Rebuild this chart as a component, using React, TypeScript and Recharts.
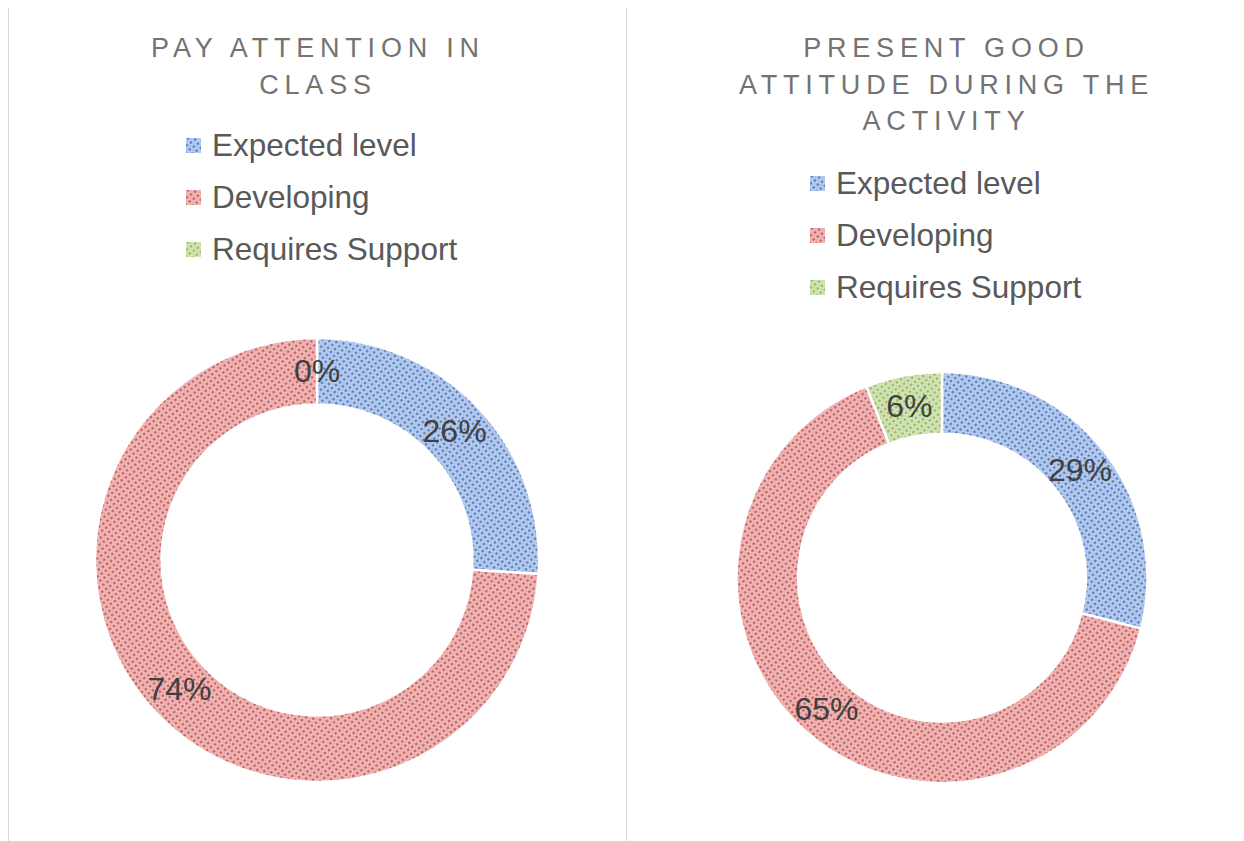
import React from "react";
import { PieChart, Pie, Cell } from "recharts";

// legend categories, in drawing order (clockwise from 12 o'clock)
const categories = ["Expected level", "Developing", "Requires Support"];
const attentionValues = [26, 74, 0];
const attitudeValues = [29, 65, 6];
const attentionTitle = ["PAY ATTENTION IN", "CLASS"];
const attitudeTitle = ["PRESENT GOOD", "ATTITUDE DURING THE", "ACTIVITY"];

const FONT = "'Liberation Sans', Arial, Helvetica, sans-serif";
const RADIAN = Math.PI / 180;

// base + dot colour for the dotted fill of each category
const swatches = [
  { base: "#bccfee", dot: "#4674c0" },
  { base: "#efbcbc", dot: "#c84f4f" },
  { base: "#d6e5bd", dot: "#8fb552" },
];

function PatternDefs({ prefix }: { prefix: string }) {
  return (
    <defs>
      {swatches.map((s, i) => (
        <pattern
          key={i}
          id={`${prefix}-pat-${i}`}
          width={5}
          height={5}
          patternUnits="userSpaceOnUse"
          patternTransform="rotate(-35)"
        >
          <rect width={5} height={5} fill={s.base} />
          <circle cx={1.5} cy={1.5} r={1.3} fill={s.dot} />
          <circle cx={4} cy={4} r={0.7} fill={s.dot} opacity={0.45} />
        </pattern>
      ))}
    </defs>
  );
}

const renderLabel = (props: any) => {
  const { cx, cy, midAngle, innerRadius, outerRadius, value } = props;
  const r = (innerRadius + outerRadius) / 2;
  const x = cx + r * Math.cos(-midAngle * RADIAN);
  const y = cy + r * Math.sin(-midAngle * RADIAN);
  return (
    <text
      x={x}
      y={y}
      textAnchor="middle"
      dominantBaseline="central"
      fill="#404040"
      fontSize={32}
      fontFamily={FONT}
    >
      {value}%
    </text>
  );
};

interface PanelProps {
  id: string;
  title: string[];
  values: number[];
  left: number;
  width: number;
  legendLeft: number;
  legendTop: number;
  cx: number;
  cy: number;
  outer: number;
  borderLeft?: boolean;
  borderRight?: boolean;
}

function DonutPanel({
  id,
  title,
  values,
  left,
  width,
  legendLeft,
  legendTop,
  cx,
  cy,
  outer,
  borderLeft,
  borderRight,
}: PanelProps) {
  const data = categories.map((name, i) => ({ name, value: values[i] }));
  const inner = outer * 0.7;

  return (
    <div
      style={{
        position: "absolute",
        left,
        top: 7,
        width,
        height: 860,
        boxSizing: "border-box",
        borderTop: "1px solid #d9d9d9",
        borderLeft: borderLeft ? "1px solid #d9d9d9" : "none",
        borderRight: borderRight ? "1px solid #d9d9d9" : "none",
        background: "#fff",
      }}
    >
      <div
        style={{
          position: "absolute",
          left: 0,
          top: 22,
          width: "100%",
          textAlign: "center",
          fontFamily: FONT,
          fontSize: 27,
          lineHeight: "36.5px",
          letterSpacing: 5.8,
          color: "#737373",
        }}
      >
        {title.map((t) => (
          <div key={t}>{t}</div>
        ))}
      </div>

      <div
        style={{
          position: "absolute",
          left: legendLeft,
          top: legendTop,
          fontFamily: FONT,
          fontSize: 31.5,
          color: "#595959",
        }}
      >
        {categories.map((c, i) => (
          <div
            key={c}
            style={{ display: "flex", alignItems: "center", height: 52 }}
          >
            <svg width={15} height={15} style={{ marginRight: 11 }}>
              <PatternDefs prefix={`${id}-leg-${i}`} />
              <rect width={15} height={15} fill={`url(#${id}-leg-${i}-pat-${i})`} />
            </svg>
            <span style={{ whiteSpace: "nowrap" }}>{c}</span>
          </div>
        ))}
      </div>

      <div style={{ position: "absolute", left: 0, top: 0 }}>
        <PieChart
          width={width - 2}
          height={850}
          margin={{ top: 0, right: 0, bottom: 0, left: 0 }}
        >
          <PatternDefs prefix={id} />
          <Pie
            data={data}
            dataKey="value"
            nameKey="name"
            cx={cx}
            cy={cy}
            innerRadius={inner}
            outerRadius={outer}
            startAngle={90}
            endAngle={-270}
            stroke="#ffffff"
            strokeWidth={2.5}
            label={renderLabel}
            labelLine={false}
            isAnimationActive={false}
          >
            {data.map((d, i) => (
              <Cell key={d.name} fill={`url(#${id}-pat-${i})`} />
            ))}
          </Pie>
        </PieChart>
      </div>
    </div>
  );
}

export default function App() {
  return (
    <div style={{ position: "relative", width: 1244, height: 841 }}>
      <div style={{ position: "absolute", left: -8, top: -8, width: 1260, height: 860, overflow: "hidden" }}>
        <DonutPanel
          id="att"
          title={attentionTitle}
          values={attentionValues}
          left={8}
          width={620}
          legendLeft={177}
          legendTop={111}
          cx={308}
          cy={552}
          outer={222}
          borderLeft
          borderRight
        />
        <DonutPanel
          id="atd"
          title={attitudeTitle}
          values={attitudeValues}
          left={626}
          width={640}
          legendLeft={183}
          legendTop={149}
          cx={315}
          cy={569.5}
          outer={205.5}
          borderLeft
        />
      </div>
    </div>
  );
}
